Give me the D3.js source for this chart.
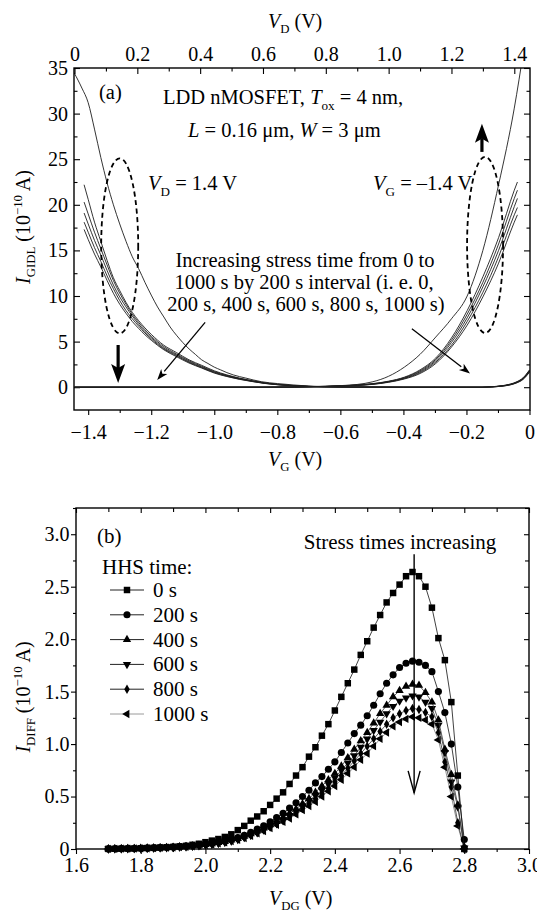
<!DOCTYPE html>
<html><head><meta charset="utf-8">
<script src="https://cdn.jsdelivr.net/npm/d3@7"></script>
<style>
body{margin:0;background:#fff}
svg{display:block}
text{font-family:"Liberation Serif","Times New Roman",serif;fill:#000}
</style>
</head><body>
<svg id="c" width="537" height="917"></svg>
<script>
// ---------------- DATA: panel (a) ----------------
// V_D = 1.4 V family, plotted against V_G (bottom axis)
const vgFresh = [-1.445,-1.42,-1.40,-1.38,-1.36,-1.34,-1.32,-1.30,-1.28,-1.26,-1.24,-1.22,-1.20,-1.18,-1.16,-1.14,-1.12,-1.10,-1.08,-1.06,-1.04,-1.02,-1.00,-0.98,-0.96,-0.94,-0.90,-0.85,-0.80,-0.75,-0.70,-0.65,-0.60,-0.50,-0.40,-0.30,-0.20,-0.15,-0.12,-0.09,-0.06,-0.04,-0.02,0];
const gidlLeftFresh = [34.5,32.8,31.2,28.3,25.2,22.4,20.0,17.9,16.0,14.3,13.0,11.5,10.1,8.8,7.7,6.6,5.7,4.9,4.2,3.6,3.0,2.6,2.2,1.9,1.6,1.35,1.0,0.6,0.4,0.25,0.12,0.05,0.02,0.01,0,0,0,0,0.05,0.15,0.35,0.6,1.05,1.9];
const vgStress = [-1.413,-1.40,-1.38,-1.36,-1.34,-1.32,-1.30,-1.28,-1.26,-1.24,-1.22,-1.20,-1.16,-1.12,-1.08,-1.04,-1.00,-0.96,-0.92,-0.88,-0.84,-0.80,-0.75,-0.70,-0.65,-0.60,-0.50,-0.40,-0.30,-0.20,-0.15,-0.12,-0.09,-0.06,-0.04,-0.02,0];
const gidlLeftA = [22.2,20.6,18.1,16.0,13.9,12.0,10.6,9.3,8.2,7.3,6.5,5.8,4.6,3.8,3.0,2.4,1.8,1.35,1.0,0.72,0.48,0.32,0.18,0.10,0.05,0.02,0.01,0,0,0,0,0.05,0.14,0.33,0.58,1.0,1.85];
const gidlLeftB = [20.3,19.0,17.0,15.2,13.4,11.7,10.3,9.1,8.0,7.1,6.3,5.6,4.45,3.65,2.9,2.3,1.72,1.3,0.96,0.69,0.46,0.30,0.17,0.09,0.045,0.02,0.01,0,0,0,0,0.04,0.13,0.31,0.55,0.97,1.8];
const gidlLeftC = [19.1,17.9,16.1,14.5,12.8,11.2,9.9,8.8,7.8,6.9,6.1,5.45,4.3,3.55,2.8,2.22,1.66,1.25,0.92,0.66,0.44,0.29,0.16,0.085,0.04,0.02,0.01,0,0,0,0,0.04,0.12,0.3,0.53,0.94,1.75];
const gidlLeftD = [18.1,17.0,15.3,13.8,12.2,10.8,9.5,8.4,7.5,6.7,5.95,5.3,4.2,3.45,2.72,2.15,1.6,1.2,0.89,0.64,0.42,0.28,0.15,0.08,0.04,0.02,0.01,0,0,0,0,0.03,0.11,0.28,0.5,0.9,1.7];
const gidlLeftE = [17.3,16.2,14.6,13.2,11.7,10.3,9.1,8.1,7.2,6.45,5.75,5.15,4.1,3.35,2.65,2.1,1.55,1.17,0.86,0.62,0.41,0.27,0.15,0.08,0.04,0.02,0.01,0,0,0,0,0.03,0.1,0.26,0.48,0.86,1.65];
// V_G = -1.4 V family, plotted against V_D (top axis)
const vdFresh = [0,0.2,0.4,0.6,0.7,0.75,0.80,0.85,0.90,0.95,1.00,1.05,1.10,1.15,1.20,1.25,1.30,1.35,1.40,1.43];
const gidlRightFresh = [0,0,0,0,0.02,0.06,0.12,0.18,0.3,0.6,1.2,2.2,3.6,5.5,7.5,10.0,15.0,22.2,30.6,37];
const vdStress = [0,0.2,0.4,0.6,0.7,0.75,0.80,0.85,0.90,0.95,1.00,1.05,1.10,1.15,1.20,1.25,1.30,1.35,1.40,1.41];
const gidlRightA = [0,0,0,0,0.02,0.05,0.09,0.16,0.25,0.4,0.66,1.1,1.9,3.2,5.4,8.4,12.1,16.4,21.6,22.5];
const gidlRightB = [0,0,0,0,0.02,0.04,0.08,0.15,0.23,0.37,0.63,1.05,1.8,3.05,5.15,8.0,11.5,15.7,20.7,21.6];
const gidlRightC = [0,0,0,0,0.02,0.04,0.08,0.15,0.22,0.35,0.6,1.0,1.7,2.9,4.9,7.6,11.0,15.0,19.8,20.7];
const gidlRightD = [0,0,0,0,0.01,0.04,0.07,0.13,0.2,0.33,0.57,0.95,1.6,2.75,4.6,7.2,10.4,14.3,18.9,19.7];
const gidlRightE = [0,0,0,0,0.01,0.03,0.06,0.12,0.19,0.31,0.54,0.9,1.5,2.6,4.4,6.8,9.9,13.6,18.1,18.9];

const aBottomTicks = [-1.4,-1.2,-1.0,-0.8,-0.6,-0.4,-0.2,0];
const aBottomMinor = [-1.3,-1.1,-0.9,-0.7,-0.5,-0.3,-0.1];
const aTopTicks = [0,0.2,0.4,0.6,0.8,1.0,1.2,1.4];
const aTopMinor = [0.1,0.3,0.5,0.7,0.9,1.1,1.3];
const aLeftTicks = [0,5,10,15,20,25,30,35];
const aLeftMinor = [2.5,7.5,12.5,17.5,22.5,27.5,32.5];

// ---------------- DATA: panel (b) ----------------
const vdg = [1.70,1.72,1.74,1.76,1.78,1.80,1.82,1.84,1.86,1.88,1.90,1.92,1.94,1.96,1.98,2.00,2.02,2.04,2.06,2.08,2.10,2.12,2.14,2.16,2.18,2.20,2.22,2.24,2.26,2.28,2.30,2.32,2.34,2.36,2.38,2.40,2.42,2.44,2.46,2.48,2.50,2.52,2.54,2.56,2.58,2.60,2.62,2.64,2.66,2.68,2.70,2.72,2.74,2.76,2.78,2.80];
const iDiff0 = [0.001,0.002,0.003,0.004,0.005,0.007,0.009,0.011,0.014,0.017,0.020,0.025,0.030,0.040,0.050,0.065,0.080,0.095,0.115,0.140,0.18,0.22,0.27,0.31,0.36,0.42,0.48,0.54,0.62,0.70,0.78,0.88,0.97,1.08,1.19,1.32,1.45,1.58,1.71,1.85,1.98,2.11,2.23,2.35,2.44,2.52,2.60,2.64,2.60,2.50,2.30,2.01,1.80,1.40,0.70,0.00];
const iDiff200 = [0.001,0.002,0.003,0.004,0.005,0.007,0.009,0.011,0.013,0.016,0.019,0.023,0.028,0.034,0.040,0.050,0.060,0.070,0.085,0.100,0.11,0.13,0.16,0.19,0.22,0.26,0.30,0.34,0.39,0.44,0.50,0.56,0.63,0.69,0.76,0.83,0.92,1.01,1.10,1.18,1.27,1.37,1.48,1.58,1.66,1.73,1.77,1.79,1.78,1.75,1.69,1.50,1.30,1.00,0.59,0.09];
const iDiff400 = [0.001,0.002,0.003,0.004,0.005,0.006,0.008,0.010,0.012,0.014,0.017,0.020,0.024,0.029,0.035,0.042,0.050,0.060,0.070,0.085,0.10,0.12,0.145,0.17,0.20,0.23,0.26,0.30,0.34,0.38,0.43,0.48,0.54,0.60,0.66,0.72,0.79,0.87,0.95,1.03,1.11,1.20,1.29,1.37,1.45,1.51,1.55,1.57,1.56,1.49,1.40,1.23,0.95,0.71,0.42,0.02];
const iDiff600 = [0.001,0.002,0.003,0.004,0.005,0.006,0.008,0.010,0.012,0.014,0.016,0.019,0.023,0.028,0.034,0.040,0.047,0.056,0.067,0.080,0.095,0.115,0.135,0.16,0.19,0.22,0.25,0.28,0.32,0.36,0.41,0.46,0.51,0.56,0.62,0.68,0.75,0.82,0.89,0.97,1.05,1.13,1.21,1.29,1.36,1.41,1.44,1.46,1.45,1.40,1.34,1.18,0.92,0.64,0.40,0.01];
const iDiff800 = [0.001,0.002,0.003,0.004,0.005,0.006,0.007,0.009,0.011,0.013,0.015,0.018,0.022,0.027,0.032,0.038,0.045,0.054,0.065,0.077,0.09,0.11,0.13,0.155,0.18,0.21,0.24,0.27,0.31,0.35,0.39,0.43,0.48,0.53,0.58,0.64,0.70,0.77,0.84,0.91,0.98,1.05,1.12,1.19,1.25,1.29,1.32,1.34,1.33,1.30,1.26,1.11,0.83,0.59,0.25,0.00];
const iDiff1000 = [0.001,0.002,0.003,0.004,0.005,0.006,0.007,0.009,0.011,0.013,0.015,0.018,0.021,0.026,0.031,0.037,0.044,0.053,0.063,0.075,0.088,0.105,0.125,0.15,0.17,0.20,0.23,0.26,0.29,0.33,0.37,0.41,0.45,0.50,0.55,0.60,0.66,0.72,0.78,0.85,0.91,0.98,1.05,1.11,1.17,1.21,1.24,1.26,1.25,1.23,1.19,1.04,0.78,0.50,0.22,0.00];
const hhsLabels = ["0 s","200 s","400 s","600 s","800 s","1000 s"];

const bBottomTicks = [1.6,1.8,2.0,2.2,2.4,2.6,2.8,3.0];
const bBottomMinor = [1.7,1.9,2.1,2.3,2.5,2.7,2.9];
const bLeftTicks = [0,0.5,1.0,1.5,2.0,2.5,3.0];
const bLeftMinor = [0.25,0.75,1.25,1.75,2.25,2.75,3.25];

// ---------------- DRAWING ----------------
const svg = d3.select('#c');
const FONT = '"Liberation Serif","Times New Roman",serif';

function rich(g, x, y, parts, size, anchor) {
  const t = g.append('text').attr('x', x).attr('y', y)
    .attr('font-size', size).attr('text-anchor', anchor || 'start');
  let shift = 0;
  parts.forEach(p => {
    const s = t.append('tspan').text(p.t);
    const target = p.sub ? size * 0.27 : (p.sup ? -size * 0.4 : 0);
    if (target - shift !== 0) s.attr('dy', target - shift);
    shift = target;
    if (p.sub || p.sup) s.attr('font-size', size * 0.64);
    if (p.i) s.attr('font-style', 'italic');
  });
  return t;
}

function styleAxis(sel, fs) {
  sel.select('.domain').remove();
  sel.attr('font-family', FONT).attr('font-size', fs);
  sel.selectAll('line').attr('stroke', '#000').attr('stroke-width', 1.1);
  sel.selectAll('text').attr('fill', '#000');
}

function addAxis(g, gen, transform, fs) {
  const a = g.append('g').attr('transform', transform).call(gen);
  styleAxis(a, fs);
  return a;
}

// ===== Panel (a) =====
const xA = d3.scaleLinear().domain([-1.445, 0]).range([74, 529.5]);
const xAtop = d3.scaleLinear().domain([0, 1.45]).range([74.5, 530]);
const yA = d3.scaleLinear().domain([-2.5, 35]).range([410, 68]);
const gA = svg.append('g');

svg.append('defs').append('clipPath').attr('id', 'clipA')
  .append('rect').attr('x', 74).attr('y', 68).attr('width', 456).attr('height', 342);

const fmt1 = d => d === 0 ? '0' : d3.format('.1f')(d);
const fmt0 = d => String(d);

addAxis(gA, d3.axisBottom(xA).tickValues(aBottomTicks).tickFormat(fmt1).tickSizeInner(5).tickSizeOuter(0).tickPadding(10), 'translate(0,410)', 20);
addAxis(gA, d3.axisBottom(xA).tickValues(aBottomMinor).tickFormat('').tickSizeInner(3).tickSizeOuter(0), 'translate(0,410)', 20);
addAxis(gA, d3.axisTop(xAtop).tickValues(aTopTicks).tickFormat(fmt1).tickSizeInner(-6).tickSizeOuter(0).tickPadding(7), 'translate(0,68)', 20);
addAxis(gA, d3.axisTop(xAtop).tickValues(aTopMinor).tickFormat('').tickSizeInner(-3.5).tickSizeOuter(0), 'translate(0,68)', 20);
addAxis(gA, d3.axisLeft(yA).tickValues(aLeftTicks).tickFormat(fmt0).tickSizeInner(-6).tickSizeOuter(0).tickPadding(6), 'translate(74,0)', 20);
addAxis(gA, d3.axisLeft(yA).tickValues(aLeftMinor).tickFormat('').tickSizeInner(-3.5).tickSizeOuter(0), 'translate(74,0)', 20);
addAxis(gA, d3.axisRight(yA).tickValues(aLeftTicks).tickFormat('').tickSizeInner(-6).tickSizeOuter(0), 'translate(530,0)', 20);
addAxis(gA, d3.axisRight(yA).tickValues(aLeftMinor).tickFormat('').tickSizeInner(-3.5).tickSizeOuter(0), 'translate(530,0)', 20);

// curves
const curvesA = gA.append('g').attr('clip-path', 'url(#clipA)');
const lineLeft = (xs, ys) => d3.line().x((d, i) => xA(xs[i])).y(d => yA(d)).curve(d3.curveMonotoneX)(ys);
const lineRight = (xs, ys) => d3.line().x((d, i) => xAtop(xs[i])).y(d => yA(d)).curve(d3.curveMonotoneX)(ys);
const leftSets = [[vgFresh, gidlLeftFresh], [vgStress, gidlLeftA], [vgStress, gidlLeftB], [vgStress, gidlLeftC], [vgStress, gidlLeftD], [vgStress, gidlLeftE]];
const rightSets = [[vdFresh, gidlRightFresh], [vdStress, gidlRightA], [vdStress, gidlRightB], [vdStress, gidlRightC], [vdStress, gidlRightD], [vdStress, gidlRightE]];
leftSets.forEach(s => curvesA.append('path').attr('d', lineLeft(s[0], s[1]))
  .attr('fill', 'none').attr('stroke', '#1e1e1e').attr('stroke-width', 0.9));
rightSets.forEach(s => curvesA.append('path').attr('d', lineRight(s[0], s[1]))
  .attr('fill', 'none').attr('stroke', '#1e1e1e').attr('stroke-width', 0.9));

// frame
gA.append('rect').attr('x', 74).attr('y', 68).attr('width', 456).attr('height', 342)
  .attr('fill', 'none').attr('stroke', '#000').attr('stroke-width', 1.4);

// dashed ellipses (data units)
const ellipses = [
  {cx: xA(-1.300), cy: yA(15.5), rx: 18.5, ry: 87.5},
  {cx: xAtop(1.307), cy: yA(15.6), rx: 18, ry: 88}
];
ellipses.forEach(e => gA.append('ellipse').attr('cx', e.cx).attr('cy', e.cy).attr('rx', e.rx).attr('ry', e.ry)
  .attr('fill', 'none').attr('stroke', '#000').attr('stroke-width', 1.8).attr('stroke-dasharray', '5,3.5'));

// thick arrows
function thickArrow(g, x, yFrom, yTo) {
  const dir = yTo > yFrom ? 1 : -1;
  const headL = 19, hw = 7, notch = 4;
  const yBase = yTo - dir * headL;
  g.append('line').attr('x1', x).attr('x2', x).attr('y1', yFrom).attr('y2', yBase + dir * notch)
    .attr('stroke', '#000').attr('stroke-width', 3.2);
  g.append('path').attr('d', `M${x},${yTo} L${x - hw},${yBase} L${x},${yBase + dir * notch} L${x + hw},${yBase} Z`)
    .attr('fill', '#000');
}
thickArrow(gA, xA(-1.305), yA(4.63), yA(0.46));
thickArrow(gA, xAtop(1.297), yA(25.8), yA(28.9));

// thin arrows
function thinArrow(g, x1, y1, x2, y2) {
  const ang = Math.atan2(y2 - y1, x2 - x1), L = 11, hw = 4;
  const bx = x2 - L * Math.cos(ang), by = y2 - L * Math.sin(ang);
  const px = -Math.sin(ang) * hw, py = Math.cos(ang) * hw;
  g.append('line').attr('x1', x1).attr('y1', y1).attr('x2', bx).attr('y2', by)
    .attr('stroke', '#000').attr('stroke-width', 1.3);
  g.append('path').attr('d', `M${x2},${y2} L${bx + px},${by + py} L${bx + 3 * Math.cos(ang)},${by + 3 * Math.sin(ang)} L${bx - px},${by - py} Z`).attr('fill', '#000');
}
thinArrow(gA, xA(-1.029), yA(7.1), xA(-1.181), yA(0.8));
thinArrow(gA, xAtop(1.074), yA(6.4), xAtop(1.259), yA(1.5));

// annotations panel a
const FS = 20.5;
rich(gA, 99, 99, [{t: '(a)'}], FS);
rich(gA, 163, 104, [{t: 'LDD nMOSFET, '}, {t: 'T', i: true}, {t: 'ox', sub: true}, {t: ' = 4 nm,'}], FS);
rich(gA, 188, 137, [{t: 'L', i: true}, {t: ' = 0.16 μm, '}, {t: 'W', i: true}, {t: ' = 3 μm'}], FS);
rich(gA, 148, 190, [{t: 'V', i: true}, {t: 'D', sub: true}, {t: ' = 1.4 V'}], FS);
rich(gA, 373, 190, [{t: 'V', i: true}, {t: 'G', sub: true}, {t: ' = –1.4 V'}], FS);
rich(gA, 305, 267, [{t: 'Increasing stress time from 0 to'}], FS, 'middle');
rich(gA, 304, 289, [{t: '1000 s by 200 s interval (i. e. 0,'}], FS, 'middle');
rich(gA, 306, 311, [{t: '200 s, 400 s, 600 s, 800 s, 1000 s)'}], FS, 'middle');

// axis titles panel a
rich(gA, 268, 28, [{t: 'V', i: true}, {t: 'D', sub: true}, {t: ' (V)'}], 20);
rich(gA, 268, 466, [{t: 'V', i: true}, {t: 'G', sub: true}, {t: ' (V)'}], 20);
const yTitleA = gA.append('g').attr('transform', 'translate(30,227) rotate(-90)');
rich(yTitleA, 0, 0, [{t: 'I', i: true}, {t: 'GIDL', sub: true}, {t: ' (10'}, {t: '−10', sup: true}, {t: ' A)'}], 20, 'middle');

// ===== Panel (b) =====
const xB = d3.scaleLinear().domain([1.6, 3.0]).range([76, 529]);
const yB = d3.scaleLinear().domain([0, 3.25]).range([849, 508]);
const gB = svg.append('g');

addAxis(gB, d3.axisBottom(xB).tickValues(bBottomTicks).tickFormat(fmt1).tickSizeInner(5).tickSizeOuter(0).tickPadding(3.5), 'translate(0,849)', 20);
addAxis(gB, d3.axisBottom(xB).tickValues(bBottomMinor).tickFormat('').tickSizeInner(3).tickSizeOuter(0), 'translate(0,849)', 20);
addAxis(gB, d3.axisTop(xB).tickValues(bBottomTicks).tickFormat('').tickSizeInner(-5).tickSizeOuter(0), 'translate(0,508)', 20);
addAxis(gB, d3.axisTop(xB).tickValues(bBottomMinor).tickFormat('').tickSizeInner(-4).tickSizeOuter(0), 'translate(0,508)', 20);
addAxis(gB, d3.axisLeft(yB).tickValues(bLeftTicks).tickFormat(d => d === 0 ? '0' : d3.format('.1f')(d)).tickSizeInner(5).tickSizeOuter(0).tickPadding(1.5), 'translate(76,0)', 20);
addAxis(gB, d3.axisLeft(yB).tickValues(bLeftMinor).tickFormat('').tickSizeInner(3).tickSizeOuter(0), 'translate(76,0)', 20);
addAxis(gB, d3.axisRight(yB).tickValues(bLeftTicks).tickFormat('').tickSizeInner(-5).tickSizeOuter(0), 'translate(529,0)', 20);
addAxis(gB, d3.axisRight(yB).tickValues(bLeftMinor).tickFormat('').tickSizeInner(-4).tickSizeOuter(0), 'translate(529,0)', 20);

const seriesB = [iDiff0, iDiff200, iDiff400, iDiff600, iDiff800, iDiff1000];
const sym = [
  {type: d3.symbolSquare, size: 42, rot: 0},
  {type: d3.symbolCircle, size: 40, rot: 0},
  {type: d3.symbolTriangle, size: 30, rot: 0},
  {type: d3.symbolTriangle, size: 30, rot: 180},
  {type: d3.symbolDiamond, size: 26, rot: 0},
  {type: d3.symbolTriangle, size: 30, rot: -90}
];
const lineCol = ['#111', '#111', '#333', '#333', '#333', '#777'];
const lineB = d3.line().x((d, i) => xB(vdg[i])).y(d => yB(d));
// draw in reverse so the fresh curve is on top
for (let k = seriesB.length - 1; k >= 0; k--) {
  gB.append('path').attr('d', lineB(seriesB[k])).attr('fill', 'none')
    .attr('stroke', lineCol[k]).attr('stroke-width', 0.8);
  const path = d3.symbol().type(sym[k].type).size(sym[k].size)();
  gB.append('g').selectAll('path').data(seriesB[k]).join('path')
    .attr('d', path)
    .attr('transform', (d, i) => `translate(${xB(vdg[i])},${yB(d)}) rotate(${sym[k].rot})`)
    .attr('fill', '#000');
}

gB.append('rect').attr('x', 76).attr('y', 508).attr('width', 453).attr('height', 341)
  .attr('fill', 'none').attr('stroke', '#000').attr('stroke-width', 1.4);

// legend
const FB = 21;
rich(gB, 97, 543, [{t: '(b)'}], FB);
rich(gB, 102, 574, [{t: 'HHS time:'}], FB);
hhsLabels.forEach((lab, k) => {
  const yb = 597 + k * 24.8, yc = yb - 7;
  gB.append('line').attr('x1', 110).attr('x2', 144).attr('y1', yc).attr('y2', yc)
    .attr('stroke', k === 5 ? '#9a9a9a' : '#222').attr('stroke-width', 1);
  gB.append('path').attr('d', d3.symbol().type(sym[k].type).size(sym[k].size)())
    .attr('transform', `translate(127,${yc}) rotate(${sym[k].rot})`).attr('fill', '#000');
  rich(gB, 153, yb, [{t: lab}], FB);
});

// stress arrow
rich(gB, 400, 549, [{t: 'Stress times increasing'}], FB, 'middle');
const ax2 = xB(2.645), ay1 = yB(2.81), ay2 = yB(0.535);
gB.append('line').attr('x1', ax2).attr('x2', ax2).attr('y1', ay1).attr('y2', ay2)
  .attr('stroke', '#000').attr('stroke-width', 1.4);
gB.append('path').attr('d', `M${ax2 - 6},${ay2 - 22} L${ax2},${ay2} L${ax2 + 6},${ay2 - 22}`)
  .attr('fill', 'none').attr('stroke', '#000').attr('stroke-width', 1.4);

// axis titles panel b
rich(gB, 269, 905, [{t: 'V', i: true}, {t: 'DG', sub: true}, {t: ' (V)'}], 20);
const yTitleB = gB.append('g').attr('transform', 'translate(30,697) rotate(-90)');
rich(yTitleB, 0, 0, [{t: 'I', i: true}, {t: 'DIFF', sub: true}, {t: ' (10'}, {t: '−10', sup: true}, {t: ' A)'}], 20, 'middle');
</script>
</body></html>
